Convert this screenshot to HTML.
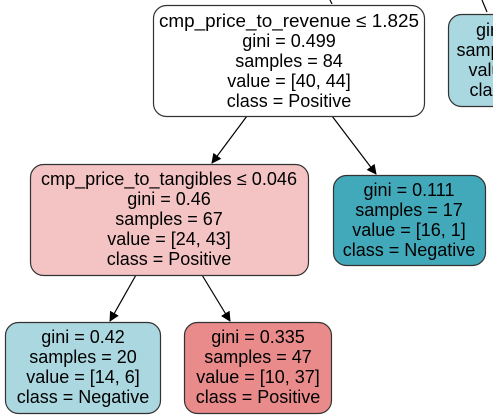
<!DOCTYPE html>
<html><head><style>body{margin:0;background:#fff}svg{display:block}</style></head><body>
<svg width="493" height="420" xmlns="http://www.w3.org/2000/svg" font-family="Liberation Sans, Arial, sans-serif" font-size="18" text-anchor="middle" fill="#000">
<defs><marker id="a" markerWidth="10" markerHeight="10" refX="9" refY="5" orient="auto" markerUnits="userSpaceOnUse"><path d="M0,0 L10,5 L0,10z" fill="#000"/></marker></defs>
<g stroke="#000" stroke-width="1.2">
<line x1="330" y1="0" x2="332" y2="4"/>
<line x1="482" y1="0" x2="487" y2="12"/>
<line x1="247" y1="116" x2="212" y2="163" marker-end="url(#a)"/>
<line x1="332" y1="116" x2="376" y2="174" marker-end="url(#a)"/>
<line x1="136" y1="275" x2="110" y2="321" marker-end="url(#a)"/>
<line x1="202" y1="275" x2="230" y2="321" marker-end="url(#a)"/>
</g>
<g stroke="#333" stroke-width="1.2">
<rect x="153.5" y="5.5" width="271" height="111" rx="13" fill="#fff"/>
<rect x="448.5" y="14.5" width="60" height="92" rx="13" fill="#a9d8e0"/>
<rect x="30.5" y="164.5" width="278" height="111" rx="13" fill="#f4c3c3"/>
<rect x="333.5" y="175.5" width="152" height="90" rx="13" fill="#42a9ba"/>
<rect x="5.5" y="322.5" width="155" height="91" rx="13" fill="#abd8e0"/>
<rect x="184.5" y="322.5" width="147" height="91" rx="13" fill="#e98b8b"/>
</g>
<g>
<text x="289" y="27" textLength="260" lengthAdjust="spacingAndGlyphs">cmp_price_to_revenue ≤ 1.825</text>
<text x="289" y="47">gini = 0.499</text>
<text x="289" y="67">samples = 84</text>
<text x="289" y="87">value = [40, 44]</text>
<text x="289" y="107">class = Positive</text>

<text x="490" y="36">gini</text>
<text x="490" y="56">samples</text>
<text x="490" y="76">value</text>
<text x="490" y="96">class</text>

<text x="169" y="185" textLength="256" lengthAdjust="spacingAndGlyphs">cmp_price_to_tangibles ≤ 0.046</text>
<text x="169" y="205">gini = 0.46</text>
<text x="169" y="225">samples = 67</text>
<text x="169" y="245">value = [24, 43]</text>
<text x="169" y="265">class = Positive</text>

<text x="409" y="196">gini = 0.111</text>
<text x="409" y="216">samples = 17</text>
<text x="409" y="236">value = [16, 1]</text>
<text x="409" y="256">class = Negative</text>

<text x="83" y="343">gini = 0.42</text>
<text x="83" y="363">samples = 20</text>
<text x="83" y="383">value = [14, 6]</text>
<text x="83" y="403">class = Negative</text>

<text x="258" y="343">gini = 0.335</text>
<text x="258" y="363">samples = 47</text>
<text x="258" y="383">value = [10, 37]</text>
<text x="258" y="403">class = Positive</text>
</g>
</svg>
</body></html>
